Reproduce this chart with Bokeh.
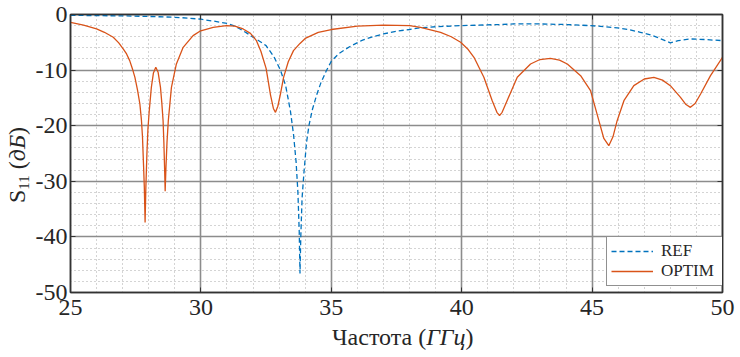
from bokeh.plotting import figure
from bokeh.models import FixedTicker, Legend, LegendItem, Range1d, Div, LinearAxis
from bokeh.layouts import row, column
from bokeh.embed import file_html
from bokeh.resources import INLINE

# ---- data ----
ref_freq = [25.0, 26.0, 27.0, 28.0, 29.0, 29.5, 30.0, 30.5, 31.0, 31.25, 31.5, 31.75,
            32.0, 32.25, 32.5, 32.8, 33.05, 33.25, 33.43, 33.55, 33.65, 33.72, 33.77,
            33.8, 33.83, 33.88, 33.95, 34.05, 34.15, 34.28, 34.45, 34.6, 34.8, 35.0,
            35.3, 35.7, 36.2, 36.6, 37.0, 37.5, 38.0, 38.4, 39.0, 40.0, 41.5, 42.0,
            43.0, 44.0, 44.94, 45.5, 45.96, 46.4, 46.85, 47.2, 47.5, 47.8, 48.0, 48.3,
            48.77, 49.3, 50.0]
ref_db = [-0.15, -0.2, -0.25, -0.35, -0.5, -0.65, -0.85, -1.2, -1.6, -2.0, -2.6, -3.3,
          -4.1, -4.8, -5.6, -7.6, -10.0, -12.8, -17.3, -21.5, -26.5, -32.0, -39.0,
          -46.6, -40.0, -33.0, -28.5, -23.0, -19.8, -17.0, -14.3, -12.3, -10.2, -8.4,
          -7.0, -5.8, -4.6, -4.0, -3.5, -3.0, -2.7, -2.4, -2.2, -2.0, -1.8, -1.7,
          -1.7, -1.8, -2.0, -2.2, -2.4, -2.7, -3.2, -3.6, -4.1, -4.7, -5.1, -4.7,
          -4.4, -4.5, -4.7]

opt_freq = [25.0, 25.5, 26.0, 26.3, 26.64, 26.85, 27.02, 27.15, 27.27, 27.37, 27.47,
            27.57, 27.66, 27.72, 27.76, 27.8, 27.83, 27.86, 27.89, 27.93, 27.97, 28.02,
            28.1, 28.18, 28.27, 28.36, 28.45, 28.5, 28.55, 28.58, 28.61, 28.63, 28.66,
            28.7, 28.75, 28.87, 29.06, 29.32, 29.7, 29.96, 30.47, 30.98, 31.3, 31.62,
            31.9, 32.13, 32.3, 32.5, 32.67, 32.78, 32.86, 32.95, 33.05, 33.17, 33.35,
            33.55, 33.8, 34.0, 34.5, 35.0, 36.0, 37.0, 38.0, 38.42, 39.19, 39.6, 39.96,
            40.25, 40.47, 40.85, 41.17, 41.35, 41.45, 41.55, 41.74, 42.13, 42.64, 43.0,
            43.4, 43.75, 44.05, 44.56, 44.94, 45.26, 45.45, 45.64, 45.8, 45.96, 46.22,
            46.6, 47.0, 47.37, 47.7, 48.0, 48.39, 48.6, 48.77, 48.95, 49.16, 49.54, 50.0]
opt_db = [-1.4, -1.9, -2.6, -3.2, -4.1, -5.1, -6.2, -7.1, -8.3, -9.7, -11.3,
          -13.6, -16.1, -19.0, -22.0, -27.0, -31.0, -37.4, -31.0, -25.0, -20.5, -17.3,
          -13.1, -10.5, -9.5, -10.4, -13.1, -15.8, -19.1, -23.0, -28.0, -31.8, -27.5,
          -23.0, -19.1, -13.1, -8.9, -5.9, -3.8, -3.0, -2.3, -2.0, -2.1, -2.6,
          -3.4, -4.7, -6.6, -9.7, -14.5, -16.9, -17.6, -16.5, -14.3, -11.3, -8.5,
          -6.5, -5.2, -4.3, -3.2, -2.7, -2.1, -1.9, -2.0, -2.3, -3.2, -4.0, -5.0,
          -6.3, -7.7, -11.3, -15.5, -17.6, -18.2, -17.6, -15.5, -11.3, -8.9, -8.1,
          -7.9, -8.2, -8.9, -11.0, -13.7, -19.1, -22.3, -23.6, -22.0, -19.1, -15.5,
          -12.8, -11.6, -11.3, -11.8, -12.8, -14.9, -16.2, -16.7, -16.0, -14.3, -11.0, -7.7]

x_ticks = [25, 30, 35, 40, 45, 50]
x_minor = [26, 27, 28, 29, 31, 32, 33, 34, 36, 37, 38, 39, 41, 42, 43, 44, 46, 47, 48, 49]
y_ticks = [0, -10, -20, -30, -40, -50]
y_tick_labels = ["0", "-10", "-20", "-30", "-40", "-50"]
y_minor = [-2, -4, -6, -8, -12, -14, -16, -18, -22, -24, -26, -28,
           -32, -34, -36, -38, -42, -44, -46, -48]

series_names = ["REF", "OPTIM"]
series_colors = ["#0072BD", "#D95319"]
x_title_main, x_title_unit = "Частота", "ГГц"
y_title_main, y_title_sub, y_title_unit = "S", "11", "дБ"

FONT = "Liberation Serif"
TXT = "#262626"
EDGE = "#333333"

p = figure(width=710, height=327, frame_width=652, frame_height=278,
           min_border_left=40, min_border_right=18, min_border_top=14, min_border_bottom=35,
           x_range=Range1d(25, 50), y_range=Range1d(-50, 0),
           output_backend="svg", toolbar_location=None, margin=0)
p.background_fill_color = "white"
p.border_fill_color = "white"
p.outline_line_color = EDGE
p.outline_line_width = 1.5

p.xaxis.ticker = FixedTicker(ticks=x_ticks, minor_ticks=x_minor)
p.yaxis.ticker = FixedTicker(ticks=y_ticks, minor_ticks=y_minor)
p.yaxis.major_label_overrides = {t: s for t, s in zip(y_ticks, y_tick_labels)}

for ax in (p.xaxis[0], p.yaxis[0]):
    ax.axis_line_color = EDGE
    ax.axis_line_width = 1.5
    ax.major_tick_in = 5
    ax.major_tick_out = 0
    ax.major_tick_line_color = EDGE
    ax.minor_tick_in = 0
    ax.minor_tick_out = 0
    ax.major_label_text_font = FONT
    ax.major_label_text_font_size = "24px"
    ax.major_label_text_color = TXT
p.yaxis.major_label_standoff = 3
p.xaxis.major_label_standoff = 7

# box ticks on the top and right edges (no labels)
top_ax = LinearAxis(ticker=FixedTicker(ticks=x_ticks),
                    major_label_overrides={t: "" for t in x_ticks})
right_ax = LinearAxis(ticker=FixedTicker(ticks=y_ticks),
                      major_label_overrides={t: "" for t in y_ticks})
for ax in (top_ax, right_ax):
    ax.axis_line_color = EDGE
    ax.axis_line_width = 1.5
    ax.major_tick_in = 5
    ax.major_tick_out = 0
    ax.major_tick_line_color = EDGE
    ax.minor_tick_in = 0
    ax.minor_tick_out = 0
    ax.major_label_standoff = 0
    ax.major_label_text_font_size = "1px"
p.add_layout(top_ax, "above")
p.add_layout(right_ax, "right")

for g in (p.xgrid[0], p.ygrid[0]):
    g.grid_line_color = "#8c8c8c"
    g.grid_line_width = 1.6
    g.minor_grid_line_color = "#a8a8a8"
    g.minor_grid_line_dash = "1 3"
    g.minor_grid_line_width = 1

r_ref = p.line(ref_freq, ref_db, line_color=series_colors[0], line_width=1.3, line_dash="5 3")
r_opt = p.line(opt_freq, opt_db, line_color=series_colors[1], line_width=1.3)

legend = Legend(items=[LegendItem(label=series_names[0], renderers=[r_ref]),
                       LegendItem(label=series_names[1], renderers=[r_opt])],
                location=(536, 6), orientation="vertical")
legend.label_text_font = FONT
legend.label_text_font_size = "17px"
legend.label_text_color = TXT
legend.glyph_width = 42
legend.glyph_height = 18
legend.label_height = 18
legend.label_width = 58
legend.label_standoff = 8
legend.spacing = 0
legend.padding = 4
legend.margin = 0
legend.border_line_color = "#222222"
legend.border_line_width = 1
legend.background_fill_alpha = 1.0
p.add_layout(legend)

# axis titles with mixed upright / italic text, as HTML text next to the plot
font_css = "font:24px/24px 'Liberation Serif'; color:" + TXT + "; white-space:nowrap;"
x_html = ('<div style="margin:-2px 0 0 302px; ' + font_css + '">'
          + x_title_main + ' (<i>' + x_title_unit + '</i>)</div>')
y_html = ('<div style="width:130px; height:24px; ' + font_css
          + ' transform-origin:0 0; transform:translate(5px,203px) rotate(-90deg);">'
          + y_title_main + '<span style="font-size:15px; position:relative; top:4px;">'
          + y_title_sub + '</span> (<i>' + y_title_unit + '</i>)</div>')
xdiv = Div(text=x_html, width=710, height=30, margin=0)
ydiv = Div(text=y_html, width=30, height=357, margin=0)

layout = row(ydiv, column(p, xdiv, spacing=0), spacing=0)

open("out.html", "w").write(file_html(layout, INLINE))
